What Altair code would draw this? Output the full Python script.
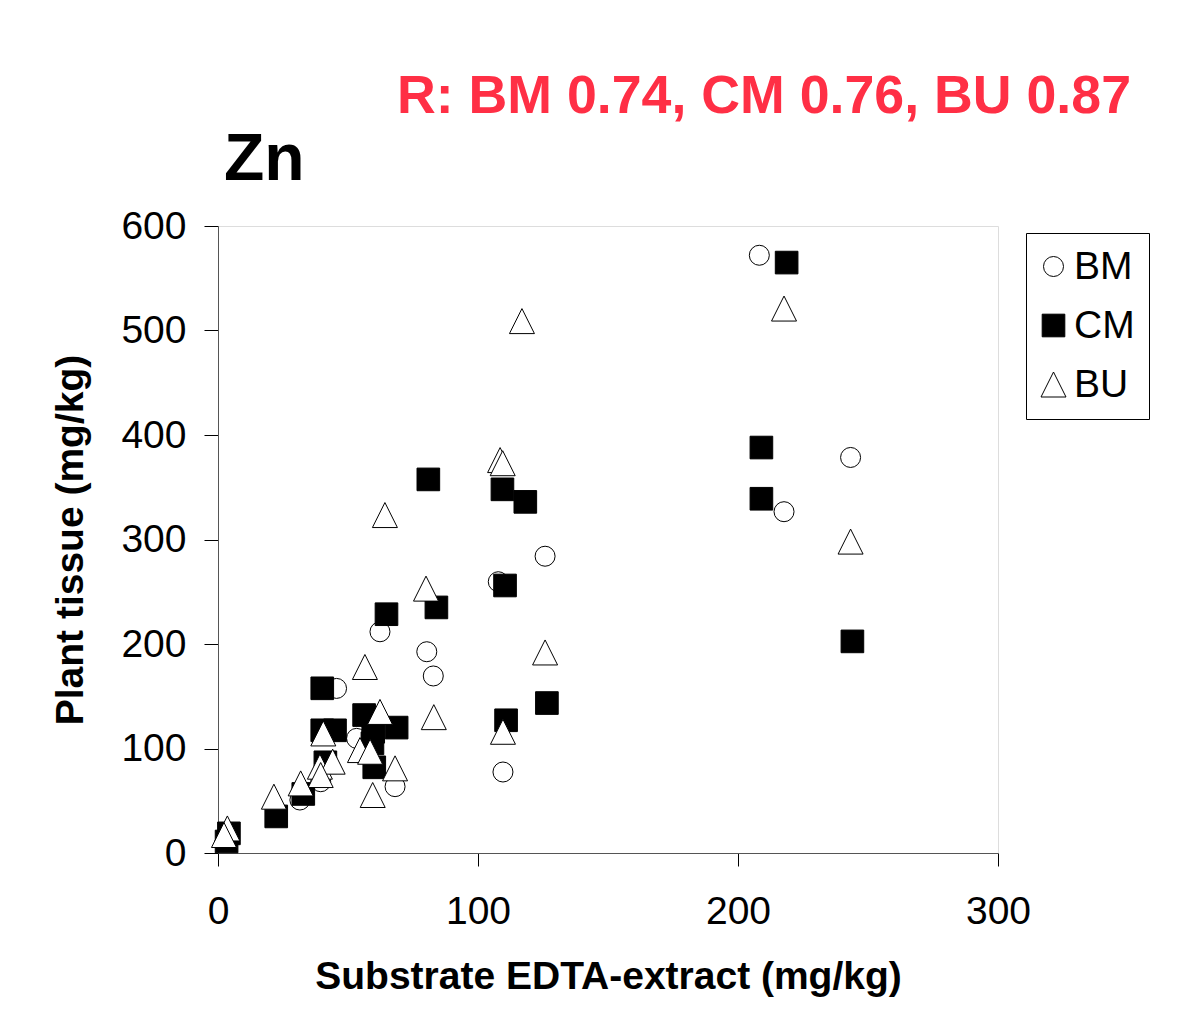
import altair as alt
import pandas as pd

# BM (open circles)
bm_x = [62.3, 80.3, 82.8, 45.6, 53.3, 68.1, 39.5, 31.5, 125.8, 107.8, 109.6, 208.2, 243.3, 217.7]
bm_y = [211.7, 192.6, 169.4, 157.5, 109.7, 63.5, 68.2, 50.7, 284, 259.6, 77.5, 572, 378.5, 326.6]

# CM (filled squares)
cm_x = [64.8, 84.0, 40.1, 40.1, 45.0, 56.2, 68.7, 59.7, 59.4, 60.1, 41.3, 32.8, 22.4, 4.2, 3.3,
        80.9, 109.4, 118.2, 110.4, 110.8, 126.5, 218.7, 209.0, 209.0, 244.0]
cm_y = [228.5, 235, 157.6, 117.4, 117.4, 132, 120, 116, 105, 82, 86.8, 56.5, 35, 18.8, 11,
        357.5, 348, 336, 256, 127, 143.5, 565, 388, 339, 202.5]

# BU (open triangles)
bu_x = [56.5, 83.0, 40.5, 62.3, 54.6, 58.5, 68.1, 59.5, 39.2, 44.1, 39.5, 31.8, 21.5, 3.6, 2.3,
        108.5, 109.5, 64.2, 80.0, 125.8, 109.6, 116.9, 217.7, 243.3]
bu_y = [178, 130, 114.4, 135, 98.5, 96.9, 81, 55.5, 82.6, 87.4, 74.6, 66.6, 53.9, 23.5, 17.2,
        376, 373, 323.4, 253, 191.9, 116, 509, 521, 298]

series = ["BM", "CM", "BU"]
x_ticks = [0, 100, 200, 300]
y_ticks = [0, 100, 200, 300, 400, 500, 600]

rows = []
for name, xs, ys in [("BM", bm_x, bm_y), ("CM", cm_x, cm_y), ("BU", bu_x, bu_y)]:
    for a, b in zip(xs, ys):
        rows.append({"series": name, "x": a, "y": b, "order": len(rows)})
df = pd.DataFrame(rows)

FONT = "Liberation Sans"
W, H = 780, 627


def make_legend():
    return alt.Legend(
        title=None, orient="none", legendX=808, legendY=7,
        labelFont=FONT, labelFontSize=39, labelColor="black",
        strokeColor="black", padding=14, rowPadding=19, labelOffset=1,
        symbolOffset=-6,
        fillColor="white", symbolStrokeWidth=1, symbolOpacity=1,
    )


points = alt.Chart(df).mark_point(filled=True, strokeWidth=1, opacity=1).encode(
    x=alt.X("x:Q", scale=alt.Scale(domain=[0, 300], nice=False, zero=True),
            axis=alt.Axis(values=x_ticks, title="Substrate EDTA-extract (mg/kg)", grid=False,
                          tickSize=13, labelPadding=26, labelFontSize=39, labelFont=FONT,
                          labelColor="black", titleFont=FONT, titleFontSize=39,
                          titleFontWeight="bold", titlePadding=26, titleColor="black",
                          domainColor="#555", tickColor="black", labelFlush=False)),
    y=alt.Y("y:Q", scale=alt.Scale(domain=[0, 600], nice=False),
            axis=alt.Axis(values=y_ticks, title="Plant tissue (mg/kg)", grid=False,
                          tickSize=14, labelPadding=18, labelFontSize=39, labelFont=FONT,
                          labelColor="black", titleFont=FONT, titleFontSize=39,
                          titleFontWeight="bold", titlePadding=30, titleColor="black",
                          domainColor="#555", tickColor="black", labelFlush=False)),
    shape=alt.Shape("series:N", scale=alt.Scale(domain=series,
                    range=["circle", "square", "M0,-1L1,1L-1,1Z"]),
                    legend=make_legend()),
    fill=alt.Fill("series:N", scale=alt.Scale(domain=series, range=["white", "black", "white"]),
                  legend=make_legend()),
    stroke=alt.Stroke("series:N", scale=alt.Scale(domain=series, range=["black", "black", "black"]),
                      legend=make_legend()),
    size=alt.Size("series:N", scale=alt.Scale(domain=series, range=[400, 625, 400]),
                  legend=make_legend()),
    order=alt.Order("order:Q"),
)

zn = alt.Chart(pd.DataFrame({"t": ["Zn"]})).mark_text(
    font=FONT, fontSize=66, fontWeight="bold", color="black", align="left", baseline="alphabetic"
).encode(text="t:N", x=alt.value(6), y=alt.value(-46))

rtext = alt.Chart(pd.DataFrame({"t": ["R: BM 0.74, CM 0.76, BU 0.87"]})).mark_text(
    font=FONT, fontSize=53.7, fontWeight="bold", color="#ff2f45", align="right", baseline="alphabetic"
).encode(text="t:N", x=alt.value(913), y=alt.value(-113))

chart = alt.layer(points, zn, rtext).properties(
    width=W, height=H,
    autosize=alt.AutoSizeParams(type="none"),
    padding={"left": 210, "top": 218, "right": 180, "bottom": 175},
).configure_view(stroke="#999", strokeWidth=1).configure(background="white")

chart.save("out.html", embed_options={"renderer": "svg", "actions": False})
